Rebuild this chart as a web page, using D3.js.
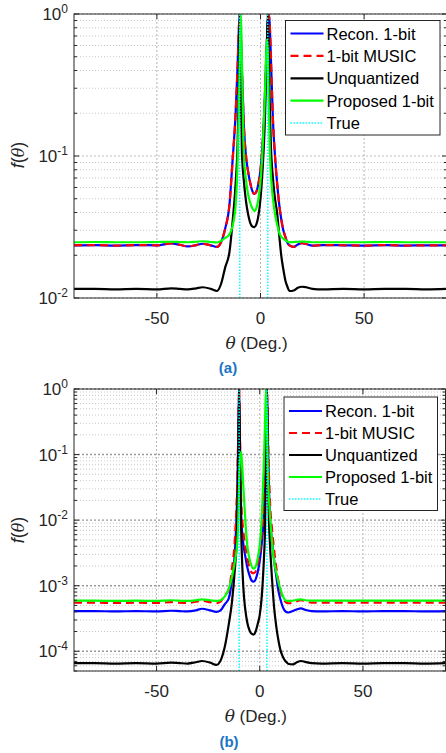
<!DOCTYPE html>
<html><head><meta charset="utf-8">
<script src="https://cdn.jsdelivr.net/npm/d3@7"></script>
<style>body{margin:0;background:#fff} svg{display:block;font-family:"Liberation Sans",Arial,sans-serif}</style>
</head><body>
<svg id="c" width="446" height="753"></svg>
<script>
// ---------------- data ----------------
const theta = [-90,-80,-70,-60,-50,-43,-39,-35,-31,-28,-24,-21,-19,-17,-15,-13.5,-12,-11,-10.5,-10,
  -9.5,-9,-8,-7,-6,-5,-4,-3,-2,-1,0,1,2,2.5,3,3.5,4,4.5,5,6,
  7,8,9,10,11,12,13,14,16,18,20,22,25,30,40,50,60,70,80,90];
const trueDOA = [-10, 3.5];
const seriesNames = ["Recon. 1-bit", "1-bit MUSIC", "Unquantized", "Proposed 1-bit", "True"];
const xTickValues = [-50, 0, 50];
const panelLabels = ["(a)", "(b)"];

// panel (a)
const reconA = [0.0235,0.0236,0.0234,0.0236,0.0235,0.0242,0.0237,0.0231,0.0236,0.0241,0.0235,0.0229,0.0248,0.031,0.045,0.092,0.2,0.45,0.75,1.0,
  0.72,0.42,0.16,0.1,0.078,0.065,0.057,0.054,0.056,0.064,0.08,0.12,0.24,0.38,0.6,0.86,1.0,0.82,0.5,0.18,
  0.1,0.065,0.046,0.036,0.03,0.027,0.0245,0.0235,0.0229,0.0238,0.0243,0.024,0.0234,0.0236,0.0235,0.0234,0.0236,0.0234,0.0235,0.0235];
const musicA = [0.0235,0.0236,0.0234,0.0236,0.0235,0.0242,0.0237,0.0231,0.0236,0.0241,0.0235,0.0229,0.0248,0.031,0.045,0.092,0.2,0.45,0.75,1.0,
  0.72,0.42,0.16,0.1,0.078,0.065,0.057,0.054,0.056,0.064,0.08,0.12,0.24,0.38,0.6,0.86,1.0,0.82,0.5,0.18,
  0.1,0.065,0.046,0.036,0.03,0.027,0.0245,0.0235,0.0229,0.0238,0.0243,0.024,0.0234,0.0236,0.0235,0.0234,0.0236,0.0234,0.0235,0.0235];
const unqA = [0.0116,0.0116,0.0115,0.0116,0.0115,0.0117,0.0116,0.0115,0.0117,0.0119,0.0116,0.0112,0.0126,0.0165,0.021,0.034,0.064,0.13,0.3,1.0,
  0.3,0.11,0.066,0.048,0.039,0.034,0.032,0.0316,0.033,0.038,0.05,0.08,0.16,0.28,0.5,1.0,0.5,0.22,0.12,0.07,
  0.05,0.04,0.028,0.02,0.016,0.0133,0.012,0.0112,0.0113,0.0118,0.012,0.0119,0.0116,0.0115,0.0116,0.0115,0.0116,0.0116,0.0115,0.0116];
const propA = [0.0247,0.0248,0.0247,0.0247,0.0248,0.0249,0.0248,0.0247,0.0249,0.0251,0.0248,0.0246,0.0253,0.0265,0.028,0.032,0.045,0.095,0.2,0.5,
  1.0,0.5,0.1,0.068,0.054,0.047,0.043,0.041,0.043,0.05,0.066,0.11,0.24,0.4,0.66,0.55,0.22,0.11,0.075,0.05,
  0.039,0.033,0.029,0.027,0.0262,0.0255,0.025,0.0247,0.0248,0.0249,0.025,0.0249,0.0247,0.0247,0.0247,0.0247,0.0248,0.0247,0.0247,0.0247];

// panel (b)
const reconB = [4.1e-4,4.1e-4,4.05e-4,4.1e-4,4.05e-4,4.15e-4,4.1e-4,4.05e-4,4.2e-4,4.45e-4,4.2e-4,4.0e-4,4.2e-4,5.2e-4,6.4e-4,1.2e-3,3.5e-3,0.02,0.12,1.0,
  0.1,0.012,4.5e-3,2.8e-3,1.9e-3,1.45e-3,1.2e-3,1.15e-3,1.25e-3,1.6e-3,2.4e-3,4.5e-3,0.012,0.03,0.15,1.0,0.15,0.03,0.01,4.8e-3,
  2.4e-3,1.4e-3,8.5e-4,6.2e-4,4.9e-4,4.2e-4,3.95e-4,3.9e-4,4.1e-4,4.35e-4,4.5e-4,4.3e-4,4.1e-4,4.05e-4,4.1e-4,4.05e-4,4.1e-4,4.1e-4,4.05e-4,4.1e-4];
const musicB = [5.5e-4,5.5e-4,5.45e-4,5.5e-4,5.45e-4,5.6e-4,5.5e-4,5.45e-4,5.7e-4,5.9e-4,5.6e-4,5.4e-4,5.7e-4,7.2e-4,8.5e-4,1.8e-3,5.5e-3,0.03,0.15,1.0,
  0.14,0.02,7e-3,4e-3,2.6e-3,1.9e-3,1.6e-3,1.55e-3,1.65e-3,2.1e-3,3.2e-3,6.5e-3,0.018,0.045,0.2,1.0,0.2,0.045,0.018,7e-3,
  3.4e-3,1.9e-3,1.2e-3,8.5e-4,6.8e-4,5.9e-4,5.5e-4,5.4e-4,5.5e-4,5.8e-4,6.0e-4,5.8e-4,5.5e-4,5.5e-4,5.5e-4,5.5e-4,5.5e-4,5.5e-4,5.5e-4,5.5e-4];
const unqB = [6.6e-5,6.6e-5,6.5e-5,6.6e-5,6.5e-5,6.7e-5,6.6e-5,6.5e-5,6.8e-5,7.1e-5,6.7e-5,6.2e-5,7.2e-5,1.15e-4,2.6e-4,5.5e-4,1.9e-3,6.5e-3,0.05,1.0,
  0.05,7e-3,1.0e-3,4.3e-4,2.7e-4,2.1e-4,1.85e-4,1.8e-4,2.0e-4,2.6e-4,3.6e-4,7e-4,2.5e-3,6e-3,0.04,1.0,0.04,9e-3,4e-3,1.2e-3,
  4.5e-4,2.4e-4,1.5e-4,1.05e-4,8.5e-5,7.4e-5,6.8e-5,6.4e-5,6.3e-5,6.8e-5,7.1e-5,6.9e-5,6.6e-5,6.5e-5,6.6e-5,6.5e-5,6.6e-5,6.6e-5,6.5e-5,6.6e-5];
const propB = [5.9e-4,5.9e-4,5.85e-4,5.9e-4,5.85e-4,6.0e-4,5.9e-4,5.85e-4,6.0e-4,6.2e-4,6.0e-4,5.85e-4,6.0e-4,6.8e-4,9e-4,1.35e-3,2.4e-3,4.2e-3,7.5e-3,0.04,
  0.09,0.11,0.035,0.01,4e-3,2.6e-3,2.0e-3,1.82e-3,1.95e-3,2.6e-3,4.2e-3,0.011,0.08,0.25,1.0,0.3,0.045,0.02,0.011,4.5e-3,
  2.3e-3,1.6e-3,1.15e-3,9e-4,7.2e-4,6.2e-4,5.9e-4,5.85e-4,5.9e-4,6.1e-4,6.2e-4,6.0e-4,5.9e-4,5.9e-4,5.9e-4,5.9e-4,5.9e-4,5.9e-4,5.9e-4,5.9e-4];

// ---------------- drawing ----------------
const svg = d3.select("#c");
const styles = [
  {color:"#0000ff", width:2.2, dash:null},
  {color:"#ff0000", width:2.2, dash:"8,5"},
  {color:"#000000", width:2.2, dash:null},
  {color:"#00ff00", width:2.2, dash:null},
  {color:"#00ffff", width:1.5, dash:"1.5,1.5"}
];

function panel(o) {
  const g = svg.append("g");
  const x = d3.scaleLinear().domain([-90, 90]).range([o.l, o.r]);
  const y = d3.scaleLog().domain(o.yDom).range([o.b, o.t]);
  const id = "clip" + o.idx;
  svg.append("clipPath").attr("id", id).append("rect")
    .attr("x", o.l).attr("y", o.t).attr("width", o.r - o.l).attr("height", o.b - o.t);

  const allTicks = y.ticks();
  const isMajor = v => Math.abs(Math.log10(v) - Math.round(Math.log10(v))) < 1e-9;
  const minors = allTicks.filter(v => !isMajor(v));
  const majors = allTicks.filter(isMajor);

  // minor grid
  g.append("g").selectAll("line").data(minors).join("line")
    .attr("x1", o.l).attr("x2", o.r).attr("y1", d => y(d)).attr("y2", d => y(d))
    .attr("stroke", "#c8c8c8").attr("stroke-width", 1).attr("stroke-dasharray", "1,2");
  // major grid
  g.append("g").selectAll("line").data(majors).join("line")
    .attr("x1", o.l).attr("x2", o.r).attr("y1", d => y(d)).attr("y2", d => y(d))
    .attr("stroke", o.majColor).attr("stroke-width", o.majW).attr("stroke-dasharray", "2,2");
  g.append("g").selectAll("line").data(xTickValues).join("line")
    .attr("x1", d => x(d)).attr("x2", d => x(d)).attr("y1", o.t).attr("y2", o.b)
    .attr("stroke", "#b4b4b4").attr("stroke-width", 1).attr("stroke-dasharray", "2,2");

  // series
  const line = d3.line().x(d => x(d[0])).y(d => y(d[1])).curve(d3.curveMonotoneX);
  const cg = g.append("g").attr("clip-path", `url(#${id})`);
  o.series.forEach((s, i) => {
    const st = styles[i];
    cg.append("path").datum(theta.map((t, k) => [t, s[k]]))
      .attr("d", line).attr("fill", "none")
      .attr("stroke", st.color).attr("stroke-width", st.width)
      .attr("stroke-dasharray", st.dash).attr("stroke-linejoin", "round");
  });
  const st = styles[4];
  cg.selectAll("line.true").data(trueDOA).join("line").attr("class", "true")
    .attr("x1", d => x(d)).attr("x2", d => x(d)).attr("y1", o.b).attr("y2", o.t)
    .attr("stroke", st.color).attr("stroke-width", st.width).attr("stroke-dasharray", st.dash);

  // box
  g.append("rect").attr("x", o.l).attr("y", o.t).attr("width", o.r - o.l).attr("height", o.b - o.t)
    .attr("fill", "none").attr("stroke", "#262626").attr("stroke-width", 1);

  // ticks
  const tk = g.append("g").attr("stroke", "#262626").attr("stroke-width", 1);
  allTicks.forEach(v => {
    const len = isMajor(v) ? 5 : 3;
    tk.append("line").attr("x1", o.l).attr("x2", o.l + len).attr("y1", y(v)).attr("y2", y(v));
    tk.append("line").attr("x1", o.r).attr("x2", o.r - len).attr("y1", y(v)).attr("y2", y(v));
  });
  xTickValues.forEach(v => {
    tk.append("line").attr("x1", x(v)).attr("x2", x(v)).attr("y1", o.b).attr("y2", o.b - 5);
    tk.append("line").attr("x1", x(v)).attr("x2", x(v)).attr("y1", o.t).attr("y2", o.t + 5);
  });

  // y tick labels
  majors.forEach(v => {
    const e = Math.round(Math.log10(v));
    const t = g.append("text").attr("x", o.l - 6).attr("y", y(v) + 6)
      .attr("text-anchor", "end").attr("fill", "#262626").attr("font-size", 17);
    t.append("tspan").text("10");
    t.append("tspan").attr("dy", -7).attr("font-size", 12).text(String(e));
  });
  // x tick labels
  g.selectAll("text.xt").data(xTickValues).join("text").attr("class", "xt")
    .attr("x", d => x(d)).attr("y", o.b + 26).attr("text-anchor", "middle")
    .attr("fill", "#262626").attr("font-size", 17).text(d => d);
  // x label
  const xl = g.append("text").attr("x", (o.l + o.r) / 2 - 4).attr("y", o.b + 51)
    .attr("text-anchor", "middle").attr("fill", "#262626").attr("font-size", 17);
  xl.append("tspan").attr("font-style", "italic").attr("font-family", "'DejaVu Serif',serif").text("θ");
  xl.append("tspan").text(" (Deg.)");
  // y label
  const yl = g.append("text").attr("transform", `translate(${o.yLabX},${o.yLabY}) rotate(-90)`)
    .attr("text-anchor", "middle").attr("fill", "#262626").attr("font-size", 18);
  yl.append("tspan").attr("font-style", "italic").text("f");
  yl.append("tspan").text("(");
  yl.append("tspan").attr("font-style", "italic").attr("font-family", "'DejaVu Serif',serif").attr("font-size", 16).text("θ");
  yl.append("tspan").text(")");
  // panel label
  g.append("text").attr("x", o.capX).attr("y", o.capY).attr("text-anchor", "middle")
    .attr("font-weight", "bold").attr("font-size", 15).attr("fill", "#1c75c3").text(panelLabels[o.idx]);

  // legend
  const L = o.leg;
  const lg = g.append("g");
  lg.append("rect").attr("x", L.x).attr("y", L.y).attr("width", L.w).attr("height", L.h)
    .attr("fill", "#fff").attr("stroke", "#262626").attr("stroke-width", 1);
  seriesNames.forEach((n, i) => {
    const yy = L.y + L.first + i * L.step;
    const s = styles[i];
    lg.append("line").attr("x1", L.x + 5).attr("x2", L.x + 38).attr("y1", yy).attr("y2", yy)
      .attr("stroke", s.color).attr("stroke-width", s.width).attr("stroke-dasharray", s.dash);
    lg.append("text").attr("x", L.x + 41).attr("y", yy + 6).attr("font-size", 16.5)
      .attr("fill", "#000").text(n);
  });
}

panel({idx:0, l:74, r:447, t:14, b:298, yDom:[0.01, 1],
  series:[reconA, musicA, unqA, propA], majColor:"#bdbdbd", majW:1,
  yLabX:24, yLabY:155, capX:228, capY:373,
  leg:{x:285.5, y:20.5, w:154.5, h:114.5, first:13, step:22.4}});
panel({idx:1, l:74, r:445.5, t:389, b:671, yDom:[5e-5, 1],
  series:[reconB, musicB, unqB, propB], majColor:"#9a9a9a", majW:1.4,
  yLabX:24, yLabY:530, capX:229, capY:747,
  leg:{x:284, y:397, w:153.5, h:113.5, first:14, step:22}});
</script>
</body></html>
